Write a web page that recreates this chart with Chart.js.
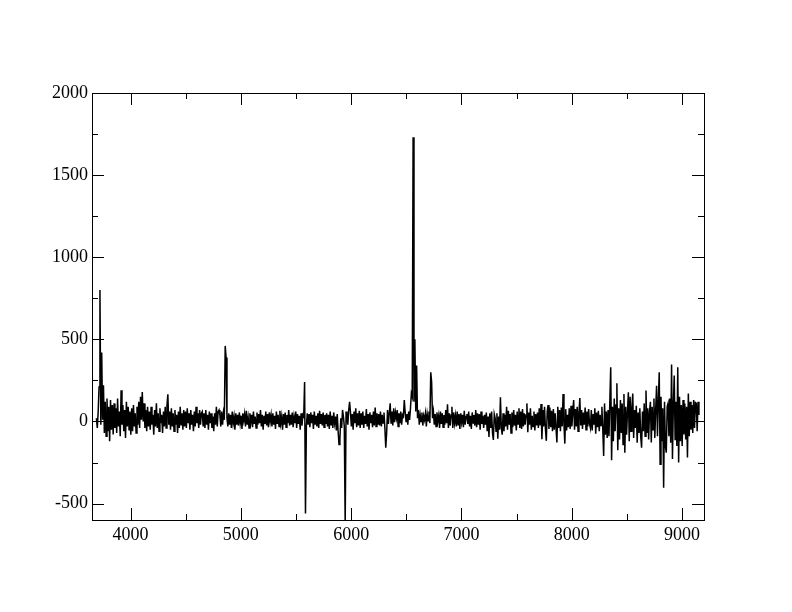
<!DOCTYPE html>
<html>
<head>
<meta charset="utf-8">
<title>Spectrum</title>
<script src="https://cdn.jsdelivr.net/npm/chart.js@4.4.0/dist/chart.umd.min.js"></script>
<style>
  html, body { margin: 0; padding: 0; background: #fff; }
  #wrap { width: 792px; height: 612px; }
</style>
</head>
<body>
<div id="wrap"><canvas id="spec" width="792" height="612"></canvas></div>
<script>
// wavelength grid of the spectrum (Angstrom), one sample every 8 A
const lambdaStart = 3690;
const lambdaStep = 8;

// flux; each row = 20 samples = 160 A
const flux = [
  20, -40, 60, 210, 800, -20, 420, 10, 220, -70, 120, -90, 140, -60, 90, -120, 130, -50, 100, -80,      // 3690
  110, -40, 80, -70, 140, -30, 60, -90, 190, -20, 100, -60, 70, -100, 120, -30, 90, -50, 60, -80,      // 3850
  80, -60, 100, -30, 50, -70, 90, -20, 120, -40, 150, 10, 180, 0, 110, -40, 70, -60, 90, -30,          // 4010
  60, -50, 90, -20, 40, -80, 70, -30, 110, -40, 50, -60, 80, -10, 40, -70, 60, -30, 90, -40,           // 4170
  100, 165, -20, 60, -50, 80, -30, 50, -60, 70, -20, 40, -70, 60, -40, 90, -20, 50, -50, 70,           // 4330
  -30, 60, -40, 80, -10, 50, -50, 70, -20, 40, -60, 60, -30, 90, -10, 50, -40, 70, -20, 50,            // 4490
  60, -30, 50, -40, 70, -20, 40, -50, 60, -10, 50, -40, 30, -60, 50, -20, 90, -30, 60, 70,             // 4650
  40, -30, 60, -20, 50, 10, 460, 390, 20, -30, 50, -20, 40, -40, 60, -10, 30, -50, 50, -20,            // 4810
  40, -25, 55, -10, 35, -45, 50, 5, 45, -30, 65, -20, 25, -40, 50, -5, 40, -35, 60, -15,               // 4970
  30, -40, 55, -20, 45, -10, 70, -30, 40, -50, 35, -15, 60, -25, 45, -35, 55, 0, 40, -30,              // 5130
  50, -20, 35, -45, 60, -15, 40, -30, 65, -10, 30, -50, 45, -20, 55, -35, 40, -10, 70, -25,            // 5290
  40, -20, 55, -35, 30, -10, 60, -40, 45, -15, 35, -50, 50, -25, 40, 30, 240, -560, -30, 50,           // 5450
  -20, 45, -35, 55, -10, 40, -45, 60, -20, 35, -30, 50, -40, 65, -15, 45, -25, 55, -35, 40,            // 5610
  -15, 50, -30, 40, -45, 60, -20, 35, -40, 55, -10, 30, -55, 45, -60, -140, -110, 20, -40, 70,         // 5770
  30, -30, -620, 60, 20, -20, 70, 120, 55, -30, 45, -50, 60, -10, 80, -35, 50, -25, 65, -40,           // 5930
  50, -20, 60, -40, 35, -15, 75, -30, 45, -50, 55, -10, 40, -35, 60, -25, 85, -30, 50, -20,            // 6090
  45, -25, 60, -30, 40, -10, 55, -40, -160, -70, 70, -15, 50, 110, -10, 60, -25, 80, -5, 55,           // 6250
  20, 70, -30, 50, -10, 60, -20, 40, 30, 130, 55, 0, 45, -20, 60, 10, 80, 170, 150, 1730,              // 6410
  120, 500, 60, 340, 20, 70, -20, 40, 0, 55, -25, 35, 10, 50, -30, 45, 5, 60, -10, 300,                // 6570
  240, 20, 60, -20, 45, -30, 55, 0, 35, -40, 60, -15, 50, -35, 40, -20, 70, -10, 105, -40,             // 6730
  50, -25, 40, 90, -40, 55, -10, 35, -30, 60, -20, 45, -45, 50, -5, 40, -35, 65, -20, 30,              // 6890
  45, -15, 60, -30, 35, -45, 55, -10, 40, -25, 70, -35, 50, -20, 45, -50, 60, -15, 35, -40,            // 7050
  40, -20, 55, -60, 30, -95, 50, -40, 60, -70, -113, 45, 20, -60, 50, -105, 30, -50, 147, -40,         // 7210
  -80, 50, -60, 40, -30, 90, -50, 65, -20, 45, -70, 55, -35, 70, -25, 40, -55, 60, -15, 80,            // 7370
  -40, 60, -45, 75, -30, 50, -20, 40, 110, -65, 55, -20, 80, -50, 35, -30, 60, -55, 45, -25,           // 7530
  55, -40, 80, -25, 106, -108, 70, -30, 90, -45, -118, 60, 100, -45, 85, -35, 65, -60, 75, -50,        // 7690
  50, -40, -128, 90, -40, 70, -60, 85, -30, 167, -20, -135, 75, -55, 40, -35, 80, -45, 95, -30,        // 7850
  60, 130, -50, 75, -30, 90, -60, 55, 143, -25, 70, -45, 55, -20, 85, -50, 60, -30, 75, -15,           // 8010
  -40, 70, -55, 45, -20, 80, -75, 55, -35, 65, -60, 40, -25, 90, -45, -210, 110, -80, 60, -100,        // 8170
  70, -90, 120, 330, -236, 90, -120, 140, -60, 100, 233, -175, 80, -110, 130, -70, 110, -140, 167, -190, // 8330
  90, -80, 60, 178, -120, 150, -60, 85, 170, -100, 70, -40, 95, -130, 55, -70, 80, -90, -160, 60,      // 8490
  -60, 110, -90, 188, -70, 80, -110, 60, 120, -128, 90, -50, 140, -100, 75, 218, -90, 130, 300, -261,  // 8650
  150, -120, 80, -404, 120, -150, -190, 90, 110, -90, 140, -130, 347, -229, 100, 280, -110, 120, -150, 330, // 8810
  -250, 150, -120, 100, -150, 130, -80, 110, -110, 90, -220, 170, -90, 120, -50, 100, -70, 130, -40, 115, // 8970
  110, -60, 120, 40                                                                                     // 9130
];

const xTicks = [4000, 5000, 6000, 7000, 8000, 9000];
const xMinorTicks = [4500, 5500, 6500, 7500, 8500];
const yTicks = [-500, 0, 500, 1000, 1500, 2000];
const yMinorTicks = [-250, 250, 750, 1250, 1750];

const points = flux.map((f, i) => ({ x: lambdaStart + i * lambdaStep, y: f }));

// frame + inward ticks on all four sides
const frameTicks = {
  id: 'frameTicks',
  afterDatasetsDraw(chart) {
    const { ctx, chartArea: a, scales: { x, y } } = chart;
    const major = 12, minor = 6;
    ctx.save();
    ctx.strokeStyle = '#000';
    ctx.lineWidth = 1;
    ctx.strokeRect(a.left + 0.5, a.top + 0.5, a.right - a.left, a.bottom - a.top);
    ctx.beginPath();
    const xt = (v, len) => {
      const px = Math.round(x.getPixelForValue(v)) + 0.5;
      ctx.moveTo(px, a.bottom); ctx.lineTo(px, a.bottom - len);
      ctx.moveTo(px, a.top); ctx.lineTo(px, a.top + len);
    };
    const yt = (v, len) => {
      const py = Math.round(y.getPixelForValue(v)) + 0.5;
      ctx.moveTo(a.left, py); ctx.lineTo(a.left + len, py);
      ctx.moveTo(a.right, py); ctx.lineTo(a.right - len, py);
    };
    xTicks.forEach(v => xt(v, major));
    xMinorTicks.forEach(v => xt(v, minor));
    yTicks.forEach(v => yt(v, major));
    yMinorTicks.forEach(v => yt(v, minor));
    ctx.stroke();
    ctx.restore();
  }
};

const tickFont = { family: "'Liberation Serif', 'Times New Roman', serif", size: 18 };

new Chart(document.getElementById('spec'), {
  type: 'scatter',
  data: {
    datasets: [{
      data: points,
      showLine: true,
      borderColor: '#000',
      borderWidth: 1.5,
      pointRadius: 0,
      fill: false,
      tension: 0
    }]
  },
  options: {
    responsive: false,
    animation: false,
    layout: { padding: { top: 93, right: 88, left: 0, bottom: 0 } },
    plugins: { legend: { display: false }, tooltip: { enabled: false } },
    scales: {
      x: {
        type: 'linear',
        min: 3650,
        max: 9200,
        grid: { display: false, drawTicks: false },
        border: { display: false },
        afterBuildTicks: s => { s.ticks = xTicks.map(v => ({ value: v })); },
        afterFit: s => { s.height = 92; },
        ticks: { padding: 4, color: '#000', font: tickFont, maxRotation: 0, autoSkip: false, callback: v => String(v) }
      },
      y: {
        type: 'linear',
        min: -600,
        max: 2000,
        grid: { display: false, drawTicks: false },
        border: { display: false },
        afterBuildTicks: s => { s.ticks = yTicks.map(v => ({ value: v })); },
        afterFit: s => { s.width = 92; },
        ticks: { padding: 4, color: '#000', font: tickFont, autoSkip: false, callback: v => String(v) }
      }
    }
  },
  plugins: [frameTicks]
});
</script>
</body>
</html>
